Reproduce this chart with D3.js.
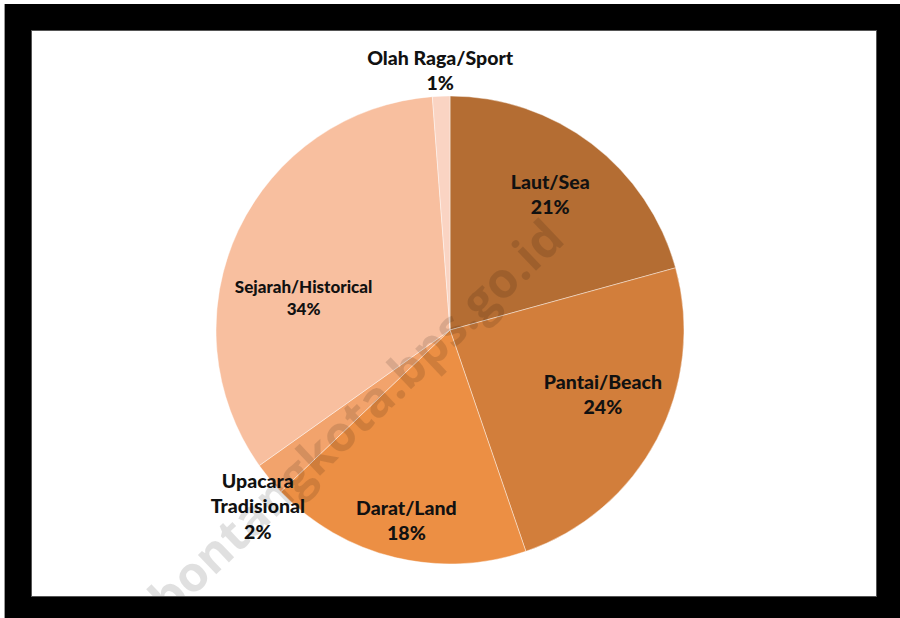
<!DOCTYPE html>
<html>
<head>
<meta charset="utf-8">
<script src="https://cdn.jsdelivr.net/npm/d3@7"></script>
<style>
  body { margin: 0; background: #fff; }
  svg { display: block; }
  .lbl { font-family: Lato, "Open Sans", sans-serif; font-weight: 900; fill: #111; }
</style>
</head>
<body>
<svg width="900" height="618"></svg>
<script>
// data (clockwise from 12 o'clock)
const categories = ["Laut/Sea", "Pantai/Beach", "Darat/Land", "Upacara Tradisional", "Sejarah/Historical", "Olah Raga/Sport"]
const labelLines = [["Laut/Sea"], ["Pantai/Beach"], ["Darat/Land"], ["Upacara", "Tradisional"], ["Sejarah/Historical"], ["Olah Raga/Sport"]]
const values = [20.7, 24.0, 18.1, 2.3, 33.6, 1.2]
const colors = ["#B46D33", "#D27E3B", "#EC8F44", "#F2A36C", "#F8BF9F", "#FAD4C3"]

// label layout: radius factor + angle shift (deg) relative to slice middle
const labelRadius = [0.72, 0.71, 0.835, 1.115, 0.64, 1.11]
const labelShift = [-0.8, -4.8, -0.8, -3, -13, 0]
const labelSize = [19.5, 19.5, 19.5, 19.5, 17, 19.5]
const labelLead = [25, 25, 25, 25.5, 22, 25]

const svg = d3.select("svg"),
  width = +svg.attr("width"),
  height = +svg.attr("height")

const cx = 450, cy = 330, radius = 234
const total = d3.sum(values)
const fmt = d3.format(".0%")

// white plot area
svg.append("rect").attr("x", 31).attr("y", 30).attr("width", 846).attr("height", 567).attr("fill", "#fff")

const pie = d3.pie().sort(null).value(d => d)
const arc = d3.arc().innerRadius(0).outerRadius(radius)
const arcs = pie(values)

const g = svg.append("g").attr("transform", "translate(" + cx + "," + cy + ")")

g.selectAll("path")
  .data(arcs)
  .enter().append("path")
  .attr("d", arc)
  .attr("fill", (d, i) => colors[i])
  .attr("stroke", "#fff")
  .attr("stroke-opacity", 0.6)
  .attr("stroke-width", 0.7)

// watermark
svg.append("text")
  .attr("transform", "translate(356,418) rotate(-43.5)")
  .attr("text-anchor", "middle")
  .attr("dy", "0.35em")
  .style("font-family", "'Open Sans', sans-serif")
  .style("font-weight", "bold")
  .style("font-size", "49px")
  .style("fill", "#000")
  .style("fill-opacity", 0.12)
  .text("bontangkota.bps.go.id")

// labels
const lbl = g.selectAll("g.label")
  .data(arcs)
  .enter().append("g")
  .attr("class", "label")
  .attr("transform", (d, i) => {
    const a = (d.startAngle + d.endAngle) / 2 + labelShift[i] * Math.PI / 180
    const r = radius * labelRadius[i]
    return "translate(" + (Math.sin(a) * r) + "," + (-Math.cos(a) * r) + ")"
  })

lbl.each(function(d, i) {
  const lines = labelLines[i].concat([fmt(d.value / total)])
  const size = labelSize[i]
  const lh = labelLead[i]
  const top = -(lines.length - 1) * lh / 2
  const t = d3.select(this).append("text")
    .attr("class", "lbl")
    .attr("text-anchor", "middle")
    .style("font-size", size + "px")
  lines.forEach((line, k) => {
    t.append("tspan")
      .attr("x", 0)
      .attr("y", top + k * lh)
      .attr("dy", "0.35em")
      .text(line)
  })
})

// black frame drawn on top (outer rect with inner hole)
svg.append("path")
  .attr("fill", "#000")
  .attr("fill-rule", "evenodd")
  .attr("d", "M5,4H" + width + "V" + height + "H5Z M31,30V597H877V30Z")
svg.append("line").attr("x1", 4.5).attr("y1", 4).attr("x2", 4.5).attr("y2", height).attr("stroke", "#999")
svg.append("rect").attr("x", 31.5).attr("y", 30.5).attr("width", 845).attr("height", 566)
  .attr("fill", "none").attr("stroke", "#555").attr("stroke-width", 1)
</script>
</body>
</html>
